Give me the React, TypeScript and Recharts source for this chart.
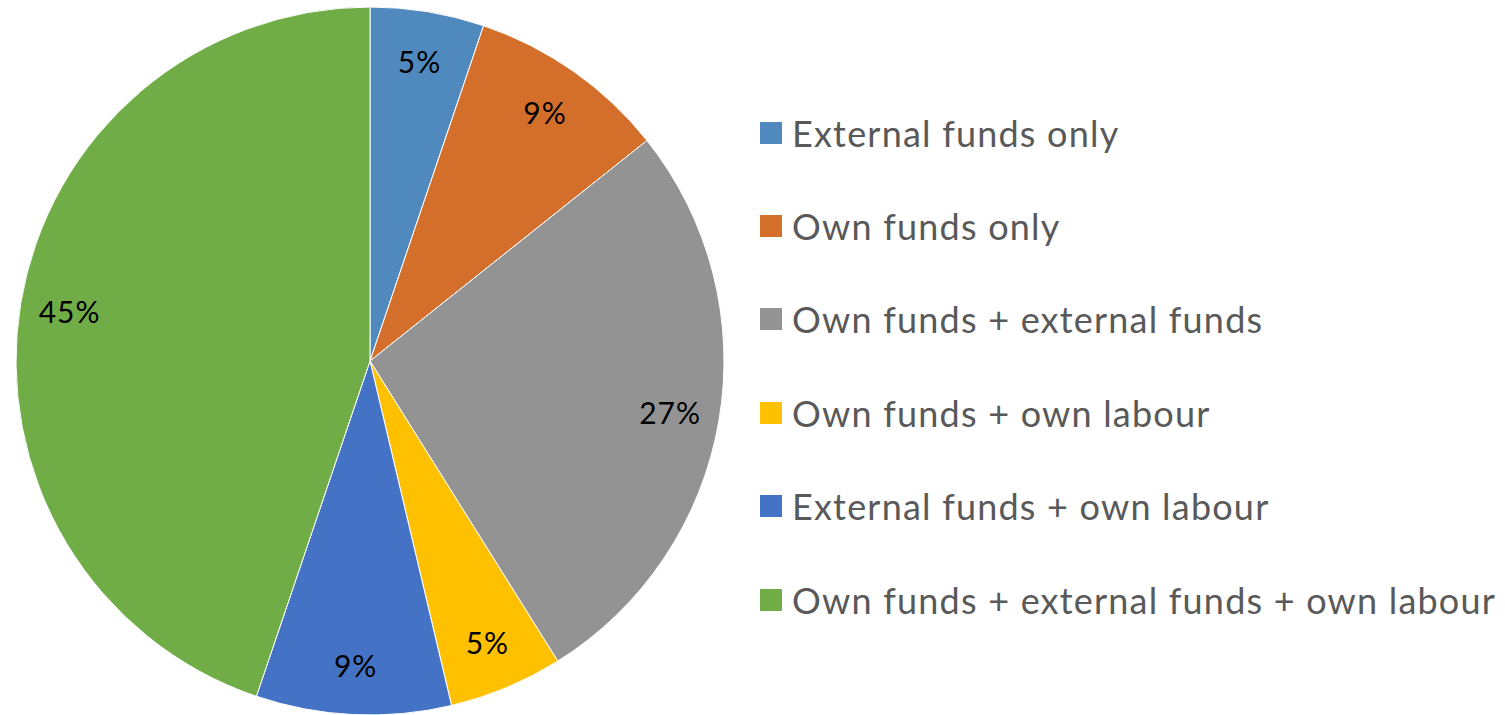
import React from "react";
import { PieChart, Pie, Cell, Legend } from "recharts";

const categories = [
  "External funds only",
  "Own funds only",
  "Own funds + external funds",
  "Own funds + own labour",
  "External funds + own labour",
  "Own funds + external funds + own labour",
];
const values = [5.2, 9.1, 26.8, 5.2, 8.9, 44.8];
const percentLabels = ["5%", "9%", "27%", "5%", "9%", "45%"];
const colors = ["#4F89BD", "#D46F2B", "#939393", "#FFC000", "#4472C4", "#70AD47"];

const data = categories.map((name, i) => ({ name, value: values[i], label: percentLabels[i] }));

const FONT = "Lato, 'Open Sans', sans-serif";
const RADIAN = Math.PI / 180;

const renderLabel = (props: any) => {
  const { cx, cy, midAngle, outerRadius, index } = props;
  const r = outerRadius * 0.86;
  const x = cx + r * Math.cos(-midAngle * RADIAN);
  const y = cy + r * Math.sin(-midAngle * RADIAN);
  return (
    <text
      x={x}
      y={y}
      fill="#000"
      fontSize={30}
      fontFamily={FONT}
      textAnchor="middle"
      dominantBaseline="central"
      style={{ letterSpacing: 1 }}
    >
      {percentLabels[index]}
    </text>
  );
};

const renderLegend = () => (
  <div style={{ fontFamily: FONT }}>
    {categories.map((c, i) => (
      <div key={c} style={{ display: "flex", alignItems: "center", height: 93.4 }}>
        <div style={{ width: 22, height: 22, background: colors[i], marginRight: 10 }} />
        <span style={{ fontSize: 36, color: "#595959", whiteSpace: "nowrap", letterSpacing: 1.2 }}>{c}</span>
      </div>
    ))}
  </div>
);

export default function App() {
  return (
    <div style={{ position: "absolute", left: 0, top: 0, background: "#fff" }}>
      <PieChart width={1505} height={715} margin={{ top: 0, right: 0, bottom: 0, left: 0 }}>
        <Pie
          data={data}
          dataKey="value"
          nameKey="name"
          cx={370}
          cy={361}
          outerRadius={354}
          startAngle={90}
          endAngle={-270}
          stroke="#ffffff"
          strokeWidth={1}
          label={renderLabel}
          labelLine={false}
          isAnimationActive={false}
        >
          {data.map((d, i) => (
            <Cell key={d.name} fill={colors[i]} />
          ))}
        </Pie>
        <Legend
          content={renderLegend}
          layout="vertical"
          wrapperStyle={{ position: "absolute", left: 760, top: 86, width: 745 }}
        />
      </PieChart>
    </div>
  );
}
